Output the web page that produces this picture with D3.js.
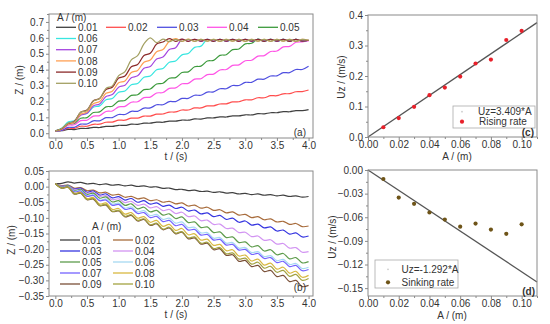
<!DOCTYPE html>
<html><head><meta charset="utf-8">
<script src="https://cdn.jsdelivr.net/npm/d3@7"></script>
<style>body{margin:0;background:#fff}svg{display:block}text{font-family:"Liberation Sans",Arial,sans-serif;fill:#333}</style>
</head><body><svg id="c" width="550" height="324"></svg>
<script>
const time=[0,0.1,0.2,0.3,0.4,0.5,0.6,0.7,0.8,0.9,1.0,1.1,1.2,1.3,1.4,1.5,1.6,1.7,1.8,1.9,2.0,2.1,2.2,2.3,2.4,2.5,2.6,2.7,2.8,2.9,3.0,3.1,3.2,3.3,3.4,3.5,3.6,3.7,3.8,3.9,4.0];
const amplitudes=["0.01","0.02","0.03","0.04","0.05","0.06","0.07","0.08","0.09","0.10"];
// (a) rising Z
const rise001=[0.015,0.016,0.024,0.023,0.030,0.030,0.037,0.036,0.043,0.043,0.050,0.049,0.057,0.056,0.063,0.063,0.070,0.069,0.076,0.076,0.083,0.082,0.090,0.089,0.096,0.096,0.103,0.102,0.109,0.109,0.116,0.115,0.123,0.122,0.129,0.129,0.136,0.135,0.142,0.142,0.149];
const rise002=[0.015,0.018,0.031,0.031,0.044,0.044,0.056,0.057,0.069,0.070,0.082,0.082,0.095,0.095,0.108,0.108,0.120,0.121,0.133,0.134,0.146,0.146,0.159,0.159,0.172,0.172,0.184,0.185,0.197,0.198,0.210,0.210,0.223,0.223,0.236,0.236,0.248,0.249,0.261,0.262,0.272];
const rise003=[0.015,0.017,0.037,0.037,0.057,0.058,0.078,0.078,0.098,0.098,0.118,0.118,0.138,0.138,0.158,0.159,0.179,0.179,0.199,0.199,0.219,0.219,0.239,0.239,0.259,0.260,0.280,0.280,0.300,0.300,0.320,0.320,0.340,0.340,0.360,0.361,0.381,0.381,0.401,0.401,0.421];
const rise004=[0.015,0.024,0.050,0.053,0.079,0.082,0.108,0.111,0.137,0.140,0.166,0.169,0.195,0.198,0.224,0.227,0.253,0.256,0.282,0.285,0.311,0.314,0.340,0.343,0.369,0.372,0.398,0.401,0.427,0.430,0.456,0.459,0.485,0.488,0.514,0.517,0.543,0.546,0.572,0.575,0.580];
const rise005=[0.015,0.026,0.058,0.062,0.094,0.098,0.130,0.134,0.166,0.170,0.202,0.206,0.238,0.242,0.274,0.278,0.310,0.314,0.346,0.350,0.382,0.386,0.418,0.422,0.454,0.458,0.490,0.494,0.526,0.530,0.562,0.566,0.592,0.579,0.591,0.579,0.591,0.579,0.590,0.580,0.585];
const rise006=[0.015,0.031,0.070,0.078,0.117,0.125,0.164,0.172,0.211,0.219,0.258,0.266,0.305,0.313,0.352,0.360,0.399,0.407,0.446,0.454,0.493,0.501,0.540,0.548,0.590,0.578,0.591,0.578,0.590,0.579,0.591,0.578,0.590,0.579,0.591,0.578,0.590,0.579,0.590,0.579,0.585];
const rise007=[0.015,0.025,0.054,0.066,0.113,0.125,0.172,0.184,0.231,0.243,0.290,0.302,0.349,0.361,0.408,0.420,0.467,0.479,0.526,0.538,0.590,0.578,0.591,0.578,0.590,0.579,0.591,0.578,0.590,0.579,0.591,0.578,0.590,0.579,0.591,0.578,0.590,0.579,0.590,0.579,0.585];
const rise008=[0.015,0.025,0.055,0.068,0.120,0.133,0.186,0.199,0.251,0.264,0.317,0.329,0.382,0.395,0.447,0.460,0.513,0.526,0.578,0.595,0.578,0.592,0.578,0.591,0.579,0.590,0.578,0.591,0.579,0.590,0.578,0.591,0.579,0.590,0.578,0.591,0.579,0.590,0.578,0.590,0.584];
const rise009=[0.015,0.028,0.061,0.075,0.132,0.146,0.204,0.218,0.275,0.289,0.347,0.360,0.418,0.432,0.489,0.503,0.561,0.574,0.595,0.578,0.592,0.578,0.591,0.579,0.590,0.578,0.591,0.579,0.590,0.578,0.591,0.579,0.590,0.578,0.591,0.579,0.590,0.578,0.590,0.579,0.585];
const rise010=[0.015,0.030,0.062,0.073,0.132,0.143,0.202,0.218,0.282,0.298,0.362,0.388,0.462,0.488,0.562,0.600,0.570,0.592,0.576,0.590,0.578,0.591,0.578,0.590,0.579,0.591,0.578,0.590,0.579,0.591,0.578,0.590,0.579,0.591,0.578,0.590,0.579,0.590,0.578,0.590,0.585];
// (b) sinking Z
const sink001=[0.010,0.0105,0.0155,0.0115,0.0135,0.0085,0.0105,0.0065,0.0085,0.0045,0.0065,0.0025,0.0045,0.0005,0.0025,-0.0015,-0.0005,-0.0055,-0.0045,-0.0095,-0.0085,-0.0125,-0.0115,-0.0155,-0.0145,-0.0185,-0.0165,-0.0205,-0.0195,-0.0235,-0.0215,-0.0255,-0.0235,-0.0275,-0.0255,-0.0295,-0.0275,-0.0315,-0.0295,-0.0335,-0.0315];
const sink002=[0.010,0.003,0.005,-0.005,-0.003,-0.013,-0.011,-0.020,-0.018,-0.027,-0.025,-0.034,-0.031,-0.039,-0.036,-0.045,-0.042,-0.050,-0.047,-0.055,-0.052,-0.062,-0.059,-0.069,-0.066,-0.076,-0.074,-0.084,-0.081,-0.091,-0.089,-0.099,-0.096,-0.106,-0.103,-0.113,-0.111,-0.121,-0.118,-0.128,-0.126];
const sink003=[0.010,0.001,0.004,-0.008,-0.005,-0.018,-0.014,-0.027,-0.023,-0.036,-0.032,-0.043,-0.038,-0.050,-0.045,-0.056,-0.052,-0.063,-0.059,-0.070,-0.066,-0.078,-0.075,-0.087,-0.084,-0.096,-0.092,-0.105,-0.101,-0.114,-0.110,-0.123,-0.120,-0.132,-0.129,-0.142,-0.139,-0.152,-0.148,-0.161,-0.158];
const sink004=[0.010,0.001,0.003,-0.010,-0.008,-0.021,-0.018,-0.031,-0.029,-0.042,-0.039,-0.051,-0.047,-0.060,-0.056,-0.068,-0.064,-0.077,-0.073,-0.086,-0.082,-0.096,-0.094,-0.109,-0.107,-0.121,-0.120,-0.134,-0.133,-0.147,-0.146,-0.160,-0.158,-0.172,-0.170,-0.184,-0.182,-0.197,-0.195,-0.210,-0.208];
const sink005=[0.010,-0.001,0.003,-0.013,-0.009,-0.025,-0.021,-0.037,-0.033,-0.049,-0.045,-0.060,-0.055,-0.071,-0.066,-0.081,-0.076,-0.091,-0.087,-0.102,-0.097,-0.115,-0.113,-0.131,-0.129,-0.147,-0.145,-0.163,-0.161,-0.179,-0.177,-0.193,-0.189,-0.206,-0.202,-0.218,-0.214,-0.231,-0.227,-0.244,-0.240];
const sink006=[0.010,-0.002,0.001,-0.015,-0.012,-0.029,-0.026,-0.043,-0.039,-0.056,-0.053,-0.069,-0.065,-0.081,-0.077,-0.093,-0.089,-0.105,-0.101,-0.117,-0.113,-0.131,-0.130,-0.148,-0.147,-0.165,-0.163,-0.181,-0.179,-0.197,-0.195,-0.211,-0.208,-0.224,-0.221,-0.237,-0.233,-0.249,-0.246,-0.262,-0.258];
const sink007=[0.010,-0.002,0.001,-0.017,-0.014,-0.031,-0.028,-0.045,-0.043,-0.060,-0.057,-0.073,-0.070,-0.086,-0.083,-0.099,-0.095,-0.112,-0.108,-0.125,-0.121,-0.139,-0.137,-0.155,-0.153,-0.171,-0.169,-0.187,-0.185,-0.203,-0.201,-0.217,-0.214,-0.230,-0.227,-0.243,-0.239,-0.256,-0.252,-0.269,-0.265];
const sink008=[0.010,-0.004,-0.001,-0.021,-0.018,-0.038,-0.035,-0.056,-0.052,-0.073,-0.070,-0.088,-0.083,-0.101,-0.096,-0.114,-0.108,-0.127,-0.121,-0.140,-0.134,-0.154,-0.151,-0.171,-0.168,-0.188,-0.185,-0.205,-0.202,-0.222,-0.219,-0.238,-0.232,-0.251,-0.245,-0.264,-0.258,-0.277,-0.271,-0.290,-0.284];
const sink009=[0.010,-0.005,-0.002,-0.024,-0.021,-0.042,-0.040,-0.061,-0.059,-0.080,-0.078,-0.097,-0.092,-0.110,-0.105,-0.124,-0.119,-0.138,-0.132,-0.151,-0.146,-0.167,-0.164,-0.184,-0.181,-0.202,-0.199,-0.220,-0.218,-0.239,-0.236,-0.256,-0.252,-0.272,-0.268,-0.288,-0.284,-0.304,-0.300,-0.320,-0.316];
const sink010=[0.010,-0.005,-0.002,-0.023,-0.020,-0.041,-0.038,-0.060,-0.057,-0.079,-0.076,-0.095,-0.090,-0.108,-0.103,-0.122,-0.117,-0.136,-0.130,-0.149,-0.144,-0.164,-0.161,-0.181,-0.178,-0.198,-0.195,-0.215,-0.212,-0.232,-0.229,-0.248,-0.242,-0.261,-0.255,-0.274,-0.268,-0.287,-0.281,-0.300,-0.294];
// (c),(d) rates
const ampValues=[0.01,0.02,0.03,0.04,0.05,0.06,0.07,0.08,0.09,0.10];
const risingRate=[0.032,0.062,0.099,0.137,0.162,0.198,0.241,0.254,0.318,0.348];
const sinkingRate=[-0.0114,-0.035,-0.043,-0.054,-0.063,-0.072,-0.068,-0.0756,-0.081,-0.069];
const riseSlope=3.409, sinkSlope=-1.292;
const fitX=[0,0.11];

const riseSeries=[rise001,rise002,rise003,rise004,rise005,rise006,rise007,rise008,rise009,rise010];
const sinkSeries=[sink001,sink002,sink003,sink004,sink005,sink006,sink007,sink008,sink009,sink010];
const riseColors=["#404040","#ff4d4d","#5050e0","#ff55e6","#3c9a3c","#38e6e0","#a545e0","#ffa055","#8b2a2a","#a3a062"];
const sinkColors=["#404040","#a86c3c","#3636e0","#d294f2","#5e9c4c","#a6d9f2","#7462ff","#d9b840","#7a5038","#a2a240"];

const svg=d3.select("#c");
const FS=10;

function frame(x,y){
  const [x0,x1]=x.range(), [y1,y0]=y.range();
  svg.append("rect").attr("x",x0).attr("y",y0).attr("width",x1-x0).attr("height",y1-y0)
    .attr("fill","none").attr("stroke","#8a8a8a").attr("stroke-width",1);
}
function axes(x,y,xt,xminor,yt,yminor,xfmt,yfmt){
  const [x0,x1]=x.range(), [y1,y0]=y.range();
  const g=svg.append("g");
  const bx=d3.axisBottom(x).tickValues(xt).tickFormat(xfmt).tickSize(3).tickPadding(1);
  g.append("g").attr("transform",`translate(0,${y1})`).call(bx);
  const mx=d3.axisBottom(x).tickValues(xminor).tickFormat("").tickSize(2);
  g.append("g").attr("transform",`translate(0,${y1})`).call(mx);
  const by=d3.axisLeft(y).tickValues(yt).tickFormat(yfmt).tickSize(3).tickPadding(2);
  g.append("g").attr("transform",`translate(${x0},0)`).call(by);
  const my=d3.axisLeft(y).tickValues(yminor).tickFormat("").tickSize(2);
  g.append("g").attr("transform",`translate(${x0},0)`).call(my);
  g.selectAll(".domain").remove();
  g.selectAll(".tick line").attr("stroke","#8a8a8a");
  g.selectAll(".tick text").attr("font-size",FS).attr("fill","#333").style("font-family","Liberation Sans, Arial, sans-serif");
}
function txt(x,y,s,anchor,rot){
  const t=svg.append("text").attr("font-size",FS).attr("text-anchor",anchor||"start").text(s);
  if(rot){t.attr("transform",`translate(${x},${y}) rotate(-90)`);} else {t.attr("x",x).attr("y",y);}
  return t;
}
const range=(a,b,s)=>d3.range(Math.round((b-a)/s)+1).map(i=>+(a+i*s).toFixed(4));

// ---------- (a)
const xa=d3.scaleLinear([-0.1,4.07],[49,313]);
const ya=d3.scaleLinear([-0.03,0.75],[138,14]);
axes(xa,ya,range(0,4,0.5),range(0.25,3.75,0.5),range(0,0.7,0.1),range(0.05,0.75,0.1),d3.format(".1f"),d3.format(".1f"));
svg.append("clipPath").attr("id","ca").append("rect").attr("x",49).attr("y",14).attr("width",264).attr("height",124);
const lineA=d3.line().x((d,i)=>xa(time[i])).y(d=>ya(d)).curve(d3.curveCatmullRom);
riseSeries.forEach((s,k)=>svg.append("path").attr("d",lineA(s)).attr("fill","none").attr("stroke",riseColors[k]).attr("stroke-width",1.2).attr("clip-path","url(#ca)"));
frame(xa,ya);
// legend (a)
txt(57,20.5,"A / (m)");
const legA=[[56,27.3],[106,27.3],[157,27.3],[207,27.3],[258,27.3],[56,38.5],[56,49.7],[56,60.9],[56,72.1],[56,83.3]];
legA.forEach(([lx,ly],k)=>{
  svg.append("line").attr("x1",lx).attr("x2",lx+20).attr("y1",ly).attr("y2",ly).attr("stroke",riseColors[k]).attr("stroke-width",1.3);
  txt(lx+22,ly+3.6,amplitudes[k]);
});
txt(306,136,"(a)","end");
txt(176,159.5,"t / (s)","middle");
txt(23,80,"Z / (m)","middle",true);

// ---------- (b)
const xb=d3.scaleLinear([-0.1,4.07],[49,313]);
const yb=d3.scaleLinear([-0.35,0.05],[296,171]);
axes(xb,yb,range(0,4,0.5),range(0.25,3.75,0.5),range(-0.35,0.05,0.05),range(-0.325,0.025,0.05),d3.format(".1f"),d3.format(".2f"));
svg.append("clipPath").attr("id","cb").append("rect").attr("x",49).attr("y",171).attr("width",264).attr("height",125);
const lineB=d3.line().x((d,i)=>xb(time[i])).y(d=>yb(d)).curve(d3.curveCatmullRom);
sinkSeries.forEach((s,k)=>svg.append("path").attr("d",lineB(s)).attr("fill","none").attr("stroke",sinkColors[k]).attr("stroke-width",1.2).attr("clip-path","url(#cb)"));
frame(xb,yb);
txt(92,230,"A / (m)");
for(let k=0;k<10;k++){
  const col=k%2, row=Math.floor(k/2);
  const lx=col?113:60, ly=240+row*11;
  svg.append("line").attr("x1",lx).attr("x2",lx+20).attr("y1",ly).attr("y2",ly).attr("stroke",sinkColors[k]).attr("stroke-width",1.3);
  txt(lx+22,ly+3.6,amplitudes[k]);
}
txt(306,291,"(b)","end");
txt(176,317.5,"t / (s)","middle");
txt(15,240,"Z / (m)","middle",true);

// ---------- (c)
const xc=d3.scaleLinear([0,0.11],[368,537]);
const yc=d3.scaleLinear([0,0.4],[137,15]);
axes(xc,yc,range(0,0.1,0.02),range(0.01,0.11,0.02),range(0,0.4,0.1),range(0.05,0.35,0.1),d3.format(".2f"),d3.format(".1f"));
svg.append("line").attr("x1",xc(fitX[0])).attr("y1",yc(riseSlope*fitX[0])).attr("x2",xc(fitX[1])).attr("y2",yc(riseSlope*fitX[1])).attr("stroke","#555").attr("stroke-width",1.3);
svg.selectAll(".pc").data(ampValues).enter().append("circle").attr("cx",d=>xc(d)).attr("cy",(d,i)=>yc(risingRate[i])).attr("r",2.1).attr("fill","#e8202a");
frame(xc,yc);
svg.append("rect").attr("x",453).attr("y",106).attr("width",82).attr("height",22).attr("fill","#fff").attr("stroke","#aaa").attr("stroke-width",0.8);
svg.append("circle").attr("cx",462).attr("cy",111.7).attr("r",0.9).attr("fill","#ccc");
txt(478,115.3,"Uz=3.409*A");
svg.append("circle").attr("cx",462).attr("cy",121.7).attr("r",2.1).attr("fill","#e8202a");
txt(479,125.3,"Rising rate");
txt(534,136,"(c)","end").attr("font-weight","bold");
txt(457,159.5,"A / (m)","middle");
txt(345,77,"Uz / (m/s)","middle",true);

// ---------- (d)
const xd=d3.scaleLinear([0,0.11],[368,537]);
const yd=d3.scaleLinear([-0.16,0],[296,170]);
axes(xd,yd,range(0,0.1,0.02),range(0.01,0.11,0.02),range(-0.15,0,0.03),range(-0.165,-0.015,0.03).filter(v=>v>-0.16),d3.format(".2f"),d3.format(".2f"));
svg.append("line").attr("x1",xd(fitX[0])).attr("y1",yd(sinkSlope*fitX[0])).attr("x2",xd(fitX[1])).attr("y2",yd(sinkSlope*fitX[1])).attr("stroke","#555").attr("stroke-width",1.3);
svg.selectAll(".pd").data(ampValues).enter().append("circle").attr("cx",d=>xd(d)).attr("cy",(d,i)=>yd(sinkingRate[i])).attr("r",2.1).attr("fill","#6e5418");
frame(xd,yd);
svg.append("rect").attr("x",375).attr("y",260).attr("width",83).attr("height",28).attr("fill","#fff").attr("stroke","#aaa").attr("stroke-width",0.8);
svg.append("circle").attr("cx",388).attr("cy",269.3).attr("r",0.9).attr("fill","#ccc");
txt(401.5,272.9,"Uz=-1.292*A");
svg.append("circle").attr("cx",388).attr("cy",282.3).attr("r",2.1).attr("fill","#6e5418");
txt(401.5,285.9,"Sinking rate");
txt(535,295,"(d)","end").attr("font-weight","bold");
txt(452,318.5,"A / (m)","middle");
txt(336,237,"Uz / (m/s)","middle",true);
</script></body></html>
